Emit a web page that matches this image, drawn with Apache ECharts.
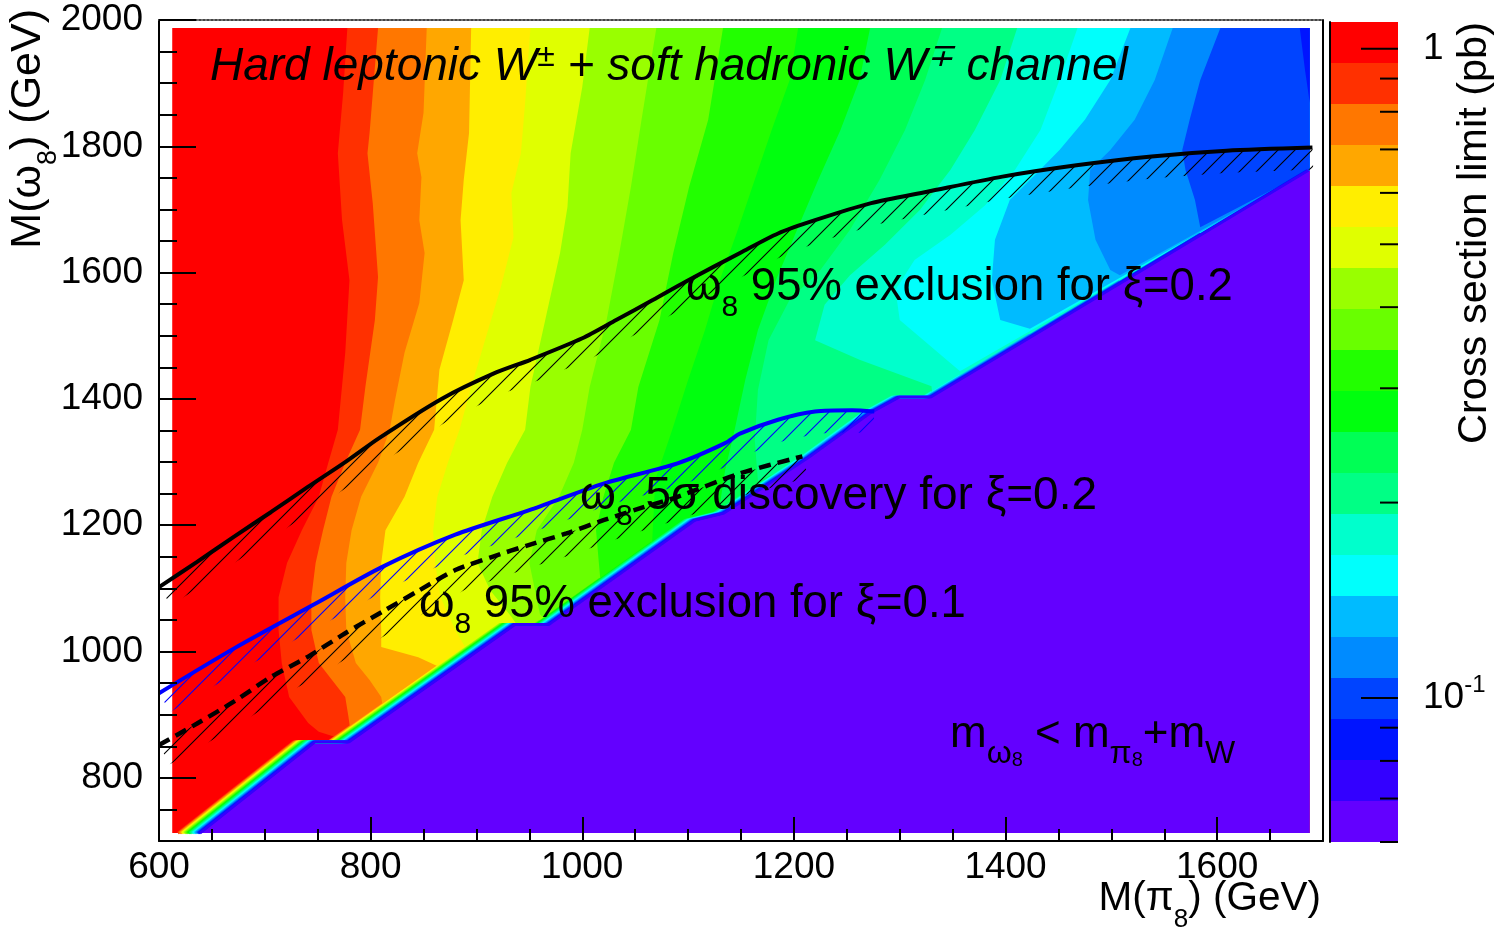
<!DOCTYPE html>
<html>
<head>
<meta charset="utf-8">
<title>Hard leptonic W + soft hadronic W channel</title>
<script src="https://cdn.jsdelivr.net/npm/echarts@6.0.0/dist/echarts.min.js"></script>
<style>
  html, body { margin: 0; padding: 0; background: #ffffff; }
  #chart { width: 1506px; height: 931px; }
</style>
</head>
<body>
<div id="chart"></div>
<script>
// band colours, highest cross section limit first (20 contour levels)
const palette = ['#ff0000', '#ff3000', '#ff7700', '#ffa700', '#ffee00', '#e0ff00', '#99ff00',
  '#69ff00', '#22ff00', '#00ff0e', '#00ff55', '#00ff85', '#00ffcc', '#00fffc', '#00bbff',
  '#008bff', '#0044ff', '#0014ff', '#3300ff', '#6300ff'];

// colour scale of the limit (pb)
const zMin = 0.06;
const zMax = 1.1;
const zMajorTicks = [1, 0.1];
const zMinorTicks = [0.06, 0.07, 0.08, 0.09, 0.2, 0.3, 0.4, 0.5, 0.6, 0.7, 0.8, 0.9];

const xTicks = [600, 800, 1000, 1200, 1400, 1600];
const yTicks = [800, 1000, 1200, 1400, 1600, 1800, 2000];

// filled area of the scan
const X0 = 612.5, X1 = 1687.5, Y0 = 712.5, Y1 = 1987.5;

// contour between band k and band k+1, [M(pi8), M(omega8)] GeV, top to bottom
const bandEdges = [
  [[778, 1987.5], [774, 1884], [769, 1789], [773, 1683], [780, 1588], [776, 1473], [769, 1351], [760, 1299], [751, 1245], [735, 1192], [721, 1140], [713, 1086], [713, 1034], [716, 982], [723, 928], [741, 887], [751, 873]],
  [[807, 1987.5], [799, 1821], [797, 1789], [802, 1710], [807, 1593], [804, 1525], [795, 1419], [790, 1351], [776, 1299], [763, 1245], [755, 1192], [748, 1140], [744, 1086], [744, 1034], [751, 982], [776, 928], [779, 897], [781, 873]],
  [[853, 1987.5], [850, 1853], [844, 1789], [848, 1751], [846, 1683], [851, 1631], [846, 1552], [832, 1473], [823, 1398], [818, 1351], [807, 1299], [791, 1245], [782, 1192], [777, 1140], [776, 1086], [777, 1034], [786, 982], [799, 955], [810, 928], [812, 907]],
  [[895, 1987.5], [893, 1821], [888, 1747], [885, 1683], [888, 1588], [878, 1525], [865, 1446], [860, 1351], [845, 1299], [832, 1245], [814, 1192], [810, 1140], [809, 1086], [810, 1034], [810, 1007], [845, 991], [867, 974]],
  [[951, 1987.5], [946, 1869], [942, 1789], [933, 1726], [935, 1656], [923, 1577], [909, 1498], [895, 1419], [884, 1351], [873, 1299], [863, 1245], [859, 1192], [861, 1140], [866, 1086], [880, 1034], [891, 1002]],
  [[1007, 1987.5], [1000, 1894], [989, 1789], [986, 1704], [979, 1631], [965, 1525], [951, 1419], [946, 1351], [929, 1299], [915, 1245], [905, 1192], [901, 1140], [913, 1097], [933, 1055]],
  [[1070, 1987.5], [1056, 1842], [1046, 1736], [1035, 1631], [1023, 1525], [1007, 1419], [1000, 1351], [992, 1299], [978, 1245], [957, 1192], [950, 1140], [960, 1059]],
  [[1133, 1987.5], [1119, 1842], [1101, 1736], [1086, 1631], [1073, 1525], [1053, 1419], [1046, 1351], [1030, 1299], [1020, 1245], [1013, 1192], [1017, 1115]],
  [[1204, 1987.5], [1196, 1905], [1179, 1826], [1163, 1747], [1147, 1668], [1130, 1588], [1116, 1509], [1100, 1430], [1085, 1351], [1069, 1272], [1066, 1172]],
  [[1272, 1987.5], [1262, 1905], [1244, 1826], [1223, 1747], [1203, 1668], [1183, 1588], [1166, 1509], [1154, 1430], [1144, 1351], [1135, 1287], [1130, 1232]],
  [[1340, 1987.5], [1324, 1905], [1305, 1826], [1281, 1747], [1253, 1668], [1225, 1604], [1196, 1557], [1176, 1493], [1166, 1414], [1163, 1335], [1166, 1270]],
  [[1411, 1987.5], [1395, 1905], [1371, 1826], [1348, 1763], [1319, 1699], [1286, 1644], [1253, 1596], [1229, 1549], [1220, 1493], [1262, 1462], [1330, 1420]],
  [[1468, 1987.5], [1451, 1905], [1433, 1826], [1409, 1763], [1381, 1707], [1348, 1660], [1314, 1620], [1296, 1573], [1300, 1525], [1357, 1444]],
  [[1518, 1987.5], [1499, 1905], [1475, 1842], [1451, 1794], [1428, 1755], [1404, 1715], [1390, 1652], [1387, 1588], [1395, 1525], [1423, 1511]],
  [[1558, 1987.5], [1541, 1905], [1522, 1842], [1499, 1794], [1480, 1763], [1478, 1715], [1485, 1652], [1499, 1604], [1508, 1596]],
  [[1603, 1987.5], [1584, 1905], [1574, 1842], [1567, 1794], [1570, 1763], [1579, 1715], [1584, 1672]],
  [[1678, 1987.5], [1683, 1921], [1687.5, 1869]]
];

// kinematic edge m_omega8 = m_pi8 + m_W
const kinX = [640, 749, 781, 938, 970, 1108, 1135, 1149, 1216, 1273, 1301, 1331, 1687.5];
const kinY = [712.5, 857, 857, 1043, 1043, 1208, 1219, 1234, 1308, 1377, 1403, 1403, 1762];

// omega8 95% exclusion, xi = 0.2
const excl02X = [600, 636, 671, 706, 741, 776, 808, 867, 916, 951, 1000, 1032, 1067, 1098, 1150, 1185, 1220, 1273, 1326, 1397, 1467, 1538, 1609, 1690];
const excl02Y = [1102, 1142, 1182, 1221, 1261, 1300, 1338, 1400, 1440, 1462, 1496, 1525, 1557, 1586, 1632, 1662, 1683, 1710, 1728, 1752, 1770, 1784, 1793, 1798];
// omega8 5 sigma discovery, xi = 0.2
const disc02X = [600, 671, 748, 811, 880, 950, 1020, 1090, 1135, 1149, 1185, 1220, 1255, 1276];
const disc02Y = [934, 1005, 1076, 1134, 1185, 1224, 1266, 1298, 1330, 1345, 1367, 1380, 1382, 1380];
// omega8 95% exclusion, xi = 0.1
const excl01X = [600, 636, 671, 706, 741, 776, 811, 846, 880, 915, 950, 985, 1020, 1055, 1090, 1149, 1208];
const excl01Y = [852, 886, 921, 960, 992, 1029, 1063, 1097, 1129, 1150, 1169, 1187, 1208, 1227, 1245, 1282, 1309];

const FONT = '"Liberation Sans", Arial, Helvetica, sans-serif';

function zip(xs, ys) { return xs.map((x, i) => [x, ys[i]]); }

// polygon covering everything right of a contour edge
function bandPolygon(edge, api) {
  const pts = edge.slice();
  const first = edge[0], last = edge[edge.length - 1];
  if (last[0] < X1) {
    for (let i = 0; i < kinX.length; i++) {
      if (kinX[i] > last[0]) pts.push([kinX[i], kinY[i]]);
    }
  }
  pts.push([X1, first[1]]);
  return pts.map(p => api.coord(p));
}

function clipX(pts, limit) {
  const out = [];
  for (let i = 0; i < pts.length; i++) {
    if (pts[i][0] <= limit) { out.push(pts[i]); continue; }
    if (i > 0) {
      const a = pts[i - 1], b = pts[i];
      const t = (limit - a[0]) / (b[0] - a[0]);
      out.push([limit, a[1] + t * (b[1] - a[1])]);
    }
    break;
  }
  return out;
}

function hatchPoints(xs, ys, api, width) {
  const p = xs.map((x, i) => api.coord([x, ys[i]]));
  const q = p.map((pt, i) => {
    const a = p[Math.max(i - 1, 0)], b = p[Math.min(i + 1, p.length - 1)];
    const dx = b[0] - a[0], dy = b[1] - a[1];
    const len = Math.hypot(dx, dy) || 1;
    return [pt[0] - dy / len * width, pt[1] + dx / len * width];
  });
  return p.concat(q.reverse());
}

function makeHatch(color) {
  const s = 17, c = document.createElement('canvas');
  c.width = s; c.height = s;
  const g = c.getContext('2d');
  g.strokeStyle = color; g.lineWidth = 1.1;
  g.beginPath();
  g.moveTo(-1, s + 1); g.lineTo(s + 1, -1);
  g.moveTo(-1, 1); g.lineTo(1, -1);
  g.moveTo(s - 1, s + 1); g.lineTo(s + 1, s - 1);
  g.stroke();
  return c;
}

const curves = [
  { xs: excl02X, ys: excl02Y, hatch: makeHatch('#000000') },
  { xs: disc02X, ys: disc02Y, hatch: makeHatch('#0000ff') },
  { xs: excl01X, ys: excl01Y, hatch: makeHatch('#000000') }
];

const tickFmt = v => String(v);
const lineBlack = { color: '#000', width: 2 };

let myChart = echarts.init(document.getElementById('chart'));
let option = {
  animation: false,
  backgroundColor: '#ffffff',
  textStyle: { fontFamily: FONT },
  grid: [
    { left: 159, top: 20, width: 1164, height: 821 },
    { left: 1330, top: 22, width: 68, height: 820 }
  ],
  xAxis: [
    { gridIndex: 0, type: 'value', min: 600, max: 1700, interval: 50, position: 'bottom', z: 10,
      axisLine: { lineStyle: lineBlack }, axisTick: { inside: true, length: 12, lineStyle: lineBlack },
      axisLabel: { show: false }, splitLine: { show: false } },
    { gridIndex: 0, type: 'value', min: 600, max: 1700, position: 'bottom', z: 10,
      axisLine: { show: false },
      axisTick: { inside: true, length: 24, customValues: xTicks, lineStyle: lineBlack },
      axisLabel: { customValues: xTicks, formatter: tickFmt, fontSize: 37, color: '#000', margin: 8, fontFamily: FONT },
      splitLine: { show: false } },
    { gridIndex: 0, type: 'value', min: 600, max: 1700, position: 'top', z: 10,
      axisLine: { lineStyle: { color: '#444', width: 2, type: [2, 2] } },
      axisTick: { show: false }, axisLabel: { show: false }, splitLine: { show: false } },
    { gridIndex: 1, type: 'value', min: 0, max: 1, show: false }
  ],
  yAxis: [
    { gridIndex: 0, type: 'value', min: 700, max: 2000, interval: 50, position: 'left', z: 10,
      axisLine: { lineStyle: lineBlack }, axisTick: { inside: true, length: 18, lineStyle: lineBlack },
      axisLabel: { show: false }, splitLine: { show: false } },
    { gridIndex: 0, type: 'value', min: 700, max: 2000, position: 'left', z: 10,
      axisLine: { show: false },
      axisTick: { inside: true, length: 37, customValues: yTicks, lineStyle: lineBlack },
      axisLabel: { customValues: yTicks, formatter: tickFmt, fontSize: 37, color: '#000', margin: 16, fontFamily: FONT },
      splitLine: { show: false } },
    { gridIndex: 0, type: 'value', min: 700, max: 2000, position: 'right', z: 10,
      axisLine: { lineStyle: lineBlack }, axisTick: { show: false }, axisLabel: { show: false }, splitLine: { show: false } },
    { gridIndex: 1, type: 'value', min: Math.log10(zMin), max: Math.log10(zMax), position: 'right', z: 10,
      axisLine: { lineStyle: lineBlack },
      axisTick: { show: false },
      axisLabel: {
        customValues: zMajorTicks.map(Math.log10), margin: 25, color: '#000', fontSize: 37, fontFamily: FONT, lineHeight: 50,
        formatter: v => (Math.abs(v) < 1e-6 ? '1' : '10{sup|-1}'),
        rich: { sup: { fontSize: 24, lineHeight: 24, verticalAlign: 'top', fontFamily: FONT, color: '#000' } }
      },
      splitLine: { show: false } }
  ],
  series: [
    { // filled contour bands
      type: 'custom', xAxisIndex: 0, yAxisIndex: 0, silent: true, z: 1,
      data: [[X0, Y0, 0]].concat(bandEdges.map((e, i) => [X0, Y0, i + 1])),
      encode: { x: 0, y: 1 },
      renderItem: (params, api) => {
        const i = params.dataIndex;
        if (i === 0) {
          const a = api.coord([X0, Y1]), b = api.coord([X1, Y0]);
          return { type: 'rect', z2: 0, shape: { x: a[0], y: a[1], width: b[0] - a[0], height: b[1] - a[1] }, style: { fill: palette[0] } };
        }
        return { type: 'polygon', z2: i, shape: { points: bandPolygon(bandEdges[i - 1], api) }, style: { fill: palette[i] } };
      }
    },
    { // region below the kinematic edge
      type: 'custom', xAxisIndex: 0, yAxisIndex: 0, silent: true, z: 2,
      data: [[X0, Y0]], encode: { x: 0, y: 1 },
      renderItem: (params, api) => {
        const pts = [[kinX[0], Y0]].concat(zip(kinX, kinY)).concat([[X1, Y0]]);
        return { type: 'polygon', shape: { points: pts.map(p => api.coord(p)) }, style: { fill: palette[palette.length - 1] } };
      }
    },
    { // thin band of steps where the limit falls off at the edge
      type: 'custom', xAxisIndex: 0, yAxisIndex: 0, silent: true, z: 3,
      data: [[X0, Y0]], encode: { x: 0, y: 1 },
      renderItem: (params, api) => {
        const base = kinX.map((x, i) => api.coord([x, kinY[i]]));
        const children = [];
        for (let L = 1; L < palette.length - 1; L++) {
          const e = bandEdges[L - 1];
          let limit = Infinity;
          if (e && e[e.length - 1][0] < X1) limit = api.coord([e[e.length - 1][0], Y0])[0];
          const sh = (palette.length - 1 - L) * 1.3;
          const pts = clipX(base.map(p => [p[0] - sh, p[1]]), limit);
          if (pts.length > 1) {
            children.push({ type: 'polyline', shape: { points: pts }, style: { stroke: palette[L], lineWidth: 2.6, fill: null } });
          }
        }
        return { type: 'group', children: children };
      }
    },
    { // hatching on the excluded side of each contour
      type: 'custom', xAxisIndex: 0, yAxisIndex: 0, silent: true, z: 4,
      data: curves.map(() => [X0, Y0]), encode: { x: 0, y: 1 },
      renderItem: (params, api) => {
        const c = curves[params.dataIndex];
        return { type: 'polygon', shape: { points: hatchPoints(c.xs, c.ys, api, 22) },
          style: { fill: { image: c.hatch, repeat: 'repeat' }, stroke: null } };
      }
    },
    { type: 'line', xAxisIndex: 0, yAxisIndex: 0, z: 5, data: zip(excl02X, excl02Y), showSymbol: false, smooth: 0.25,
      lineStyle: { color: '#000000', width: 4 }, silent: true },
    { type: 'line', xAxisIndex: 0, yAxisIndex: 0, z: 5, data: zip(disc02X, disc02Y), showSymbol: false, smooth: 0.25,
      lineStyle: { color: '#0000ff', width: 4 }, silent: true },
    { type: 'line', xAxisIndex: 0, yAxisIndex: 0, z: 5, data: zip(excl01X, excl01Y), showSymbol: false, smooth: 0.25,
      lineStyle: { color: '#000000', width: 4.5, type: [12, 7] }, silent: true },
    { // colour scale
      type: 'custom', xAxisIndex: 3, yAxisIndex: 3, silent: true, z: 2,
      data: palette.map((c, i) => [0, 0, i]), encode: { x: 0, y: 1 },
      renderItem: (params, api) => {
        const lmin = Math.log10(zMin), lmax = Math.log10(zMax);
        const step = (lmax - lmin) / palette.length;
        const i = params.dataIndex;
        const a = api.coord([0, lmax - i * step]), b = api.coord([1, lmax - (i + 1) * step]);
        return { type: 'rect', shape: { x: a[0], y: a[1], width: b[0] - a[0], height: b[1] - a[1] }, style: { fill: palette[i] } };
      }
    },
    { // colour scale ticks (log spaced), long at decades
      type: 'custom', xAxisIndex: 3, yAxisIndex: 3, silent: true, z: 6,
      data: zMajorTicks.concat(zMinorTicks).map(v => [1, Math.log10(v)]), encode: { x: 0, y: 1 },
      renderItem: (params, api) => {
        const p = api.coord([1, api.value(1)]);
        const len = params.dataIndex < zMajorTicks.length ? 37 : 18;
        return { type: 'line', shape: { x1: p[0], y1: p[1], x2: p[0] - len, y2: p[1] }, style: { stroke: '#000', lineWidth: 2 } };
      }
    }
  ],
  graphic: [
    { type: 'text', x: 210, y: 41, z: 100, silent: true,
      style: { text: 'Hard leptonic W{sup|±} + soft hadronic W{sup|∓} channel', fill: '#000', fontSize: 46, fontStyle: 'italic',
        fontFamily: FONT, lineHeight: 52, verticalAlign: 'top',
        rich: { sup: { fontSize: 32, fontStyle: 'italic', fontFamily: FONT, lineHeight: 32, verticalAlign: 'top', fill: '#000' } } } },
    { type: 'text', x: 686, y: 251, z: 100, silent: true,
      style: { text: 'ω{s|8} 95% exclusion for ξ=0.2', fill: '#000', fontSize: 45.5, fontFamily: FONT, lineHeight: 72, verticalAlign: 'top',
        rich: { s: { fontSize: 30, fontFamily: FONT, lineHeight: 29, verticalAlign: 'bottom', fill: '#000' } } } },
    { type: 'text', x: 580, y: 460, z: 100, silent: true,
      style: { text: 'ω{s|8} 5σ discovery for ξ=0.2', fill: '#000', fontSize: 46, fontFamily: FONT, lineHeight: 72, verticalAlign: 'top',
        rich: { s: { fontSize: 30, fontFamily: FONT, lineHeight: 29, verticalAlign: 'bottom', fill: '#000' } } } },
    { type: 'text', x: 419, y: 568, z: 100, silent: true,
      style: { text: 'ω{s|8} 95% exclusion for ξ=0.1', fill: '#000', fontSize: 45.5, fontFamily: FONT, lineHeight: 72, verticalAlign: 'top',
        rich: { s: { fontSize: 30, fontFamily: FONT, lineHeight: 29, verticalAlign: 'bottom', fill: '#000' } } } },
    { type: 'text', x: 950, y: 700, z: 100, silent: true,
      style: { text: 'm{s|ω}{ss|8} < m{s|π}{ss|8}+m{s|W}', fill: '#000', fontSize: 44, fontFamily: FONT, lineHeight: 70, verticalAlign: 'top',
        rich: {
          s: { fontSize: 32, fontFamily: FONT, lineHeight: 44, verticalAlign: 'bottom', fill: '#000' },
          ss: { fontSize: 20, fontFamily: FONT, lineHeight: 19, verticalAlign: 'bottom', fill: '#000' }
        } } },
    { type: 'text', x: 1321, y: 865, z: 100, silent: true,
      style: { text: 'M(π{s|8}) (GeV)', fill: '#000', fontSize: 40.5, fontFamily: FONT, lineHeight: 68, align: 'right', verticalAlign: 'top',
        rich: { s: { fontSize: 26, fontFamily: FONT, lineHeight: 24, verticalAlign: 'bottom', fill: '#000' } } } },
    { type: 'text', x: -6, y: 9, rotation: Math.PI / 2, z: 100, silent: true,
      style: { text: 'M(ω{s|8}) (GeV)', fill: '#000', fontSize: 43, fontFamily: FONT, lineHeight: 68, align: 'right', verticalAlign: 'top',
        rich: { s: { fontSize: 27, fontFamily: FONT, lineHeight: 24, verticalAlign: 'bottom', fill: '#000' } } } },
    { type: 'text', x: 1475, y: 22, rotation: Math.PI / 2, z: 100, silent: true,
      style: { text: 'Cross section limit (pb)', fill: '#000', fontSize: 41.5, fontFamily: FONT, align: 'right', verticalAlign: 'middle' } }
  ]
};

option && myChart.setOption(option);
window.addEventListener('resize', () => {
  myChart.resize();
});
</script>
</body>
</html>
